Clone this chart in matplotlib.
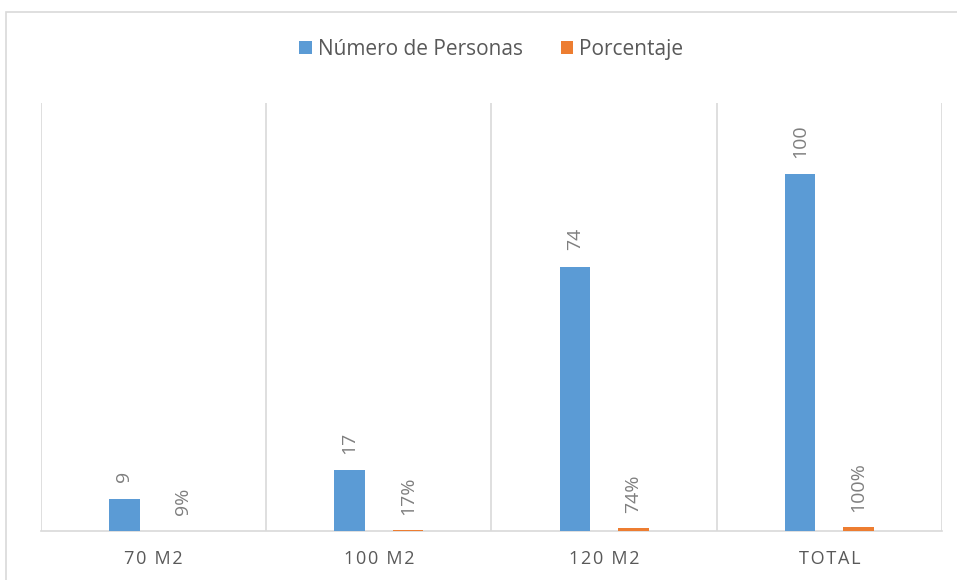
import numpy as np
import matplotlib.pyplot as plt
from matplotlib.patches import Rectangle

# data
categorias = ['70 M2', '100 M2', '120 M2', 'TOTAL']
personas = [9, 17, 74, 100]
porcentaje = [0.09, 0.17, 0.74, 1.00]

azul = '#5B9BD5'
naranja = '#ED7D31'
gris = '#595959'

plt.rcParams['font.family'] = ['Open Sans', 'DejaVu Sans']

fig = plt.figure(figsize=(9.57, 5.8), dpi=100)
ax = fig.add_axes([0.0428, 0.0845, 0.9415, 0.738])

# chart frame
fig.patches.append(Rectangle((6 / 957, -0.05), 1.0, 1 - 12 / 580 + 0.05,
                             transform=fig.transFigure, fill=False,
                             edgecolor='#d9d9d9', linewidth=1.2))

x = np.arange(len(categorias))
w = 0.135
off = 0.13
b1 = ax.bar(x - off, personas, w, color=azul, label='Número de Personas', zorder=3)
b2 = ax.bar(x + off, porcentaje, w, color=naranja, label='Porcentaje', zorder=3)

for r, v in zip(b1, personas):
    ax.annotate(str(v), (r.get_x() + r.get_width() / 2, r.get_height()),
                xytext=(0, 12), textcoords='offset points', rotation=90,
                ha='center', va='bottom', fontsize=14, color='#7f7f7f')
for r, v in zip(b2, porcentaje):
    ax.annotate(f'{v:.0%}', (r.get_x() + r.get_width() / 2, r.get_height()),
                xytext=(0, 11), textcoords='offset points', rotation=90,
                ha='center', va='bottom', fontsize=14, color='#7f7f7f')

# Excel-style letter spacing on the category labels
espaciado = ['\u200a'.join(c) for c in categorias]

ax.set_xlim(-0.5, len(categorias) - 0.5)
ax.set_ylim(0, 120)
ax.set_yticks([])
ax.set_xticks(x)
ax.set_xticklabels(espaciado, fontsize=13, color=gris)
ax.set_xticks(np.arange(len(categorias) + 1) - 0.5, minor=True)
ax.tick_params(axis='x', which='both', length=0, pad=14)
ax.grid(axis='x', which='minor', color='#d9d9d9', linewidth=1.2, zorder=0)
for s in ['top', 'right', 'left']:
    ax.spines[s].set_visible(False)
ax.spines['bottom'].set_color('#d9d9d9')
ax.spines['bottom'].set_linewidth(1.2)

leg = ax.legend(loc='center', bbox_to_anchor=(0.5, 1.125), ncol=2, frameon=False,
                fontsize=15, handlelength=0.6, handleheight=0.6, handletextpad=0.3,
                columnspacing=1.8)
for t in leg.get_texts():
    t.set_color(gris)

fig.savefig('out.png', dpi=100)
